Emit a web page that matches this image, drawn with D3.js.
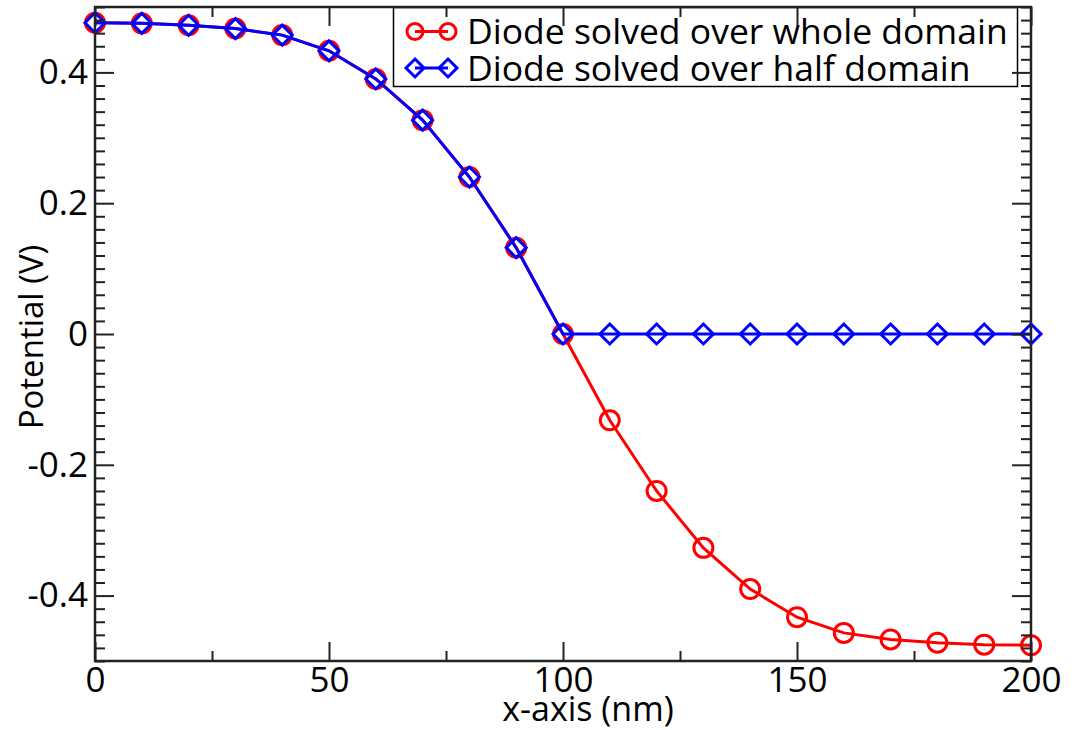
<!DOCTYPE html>
<html>
<head>
<meta charset="utf-8">
<script src="https://cdn.jsdelivr.net/npm/d3@7"></script>
<style>
  body { margin: 0; background: #fff; }
  svg { display: block; }
</style>
</head>
<body>
<svg id="chart"></svg>
<script>
// data
var xs = [0, 10, 20, 30, 40, 50, 60, 70, 80, 90, 100, 110, 120, 130, 140, 150, 160, 170, 180, 190, 200]
var wholeDomain = [0.476, 0.475, 0.472, 0.467, 0.457, 0.433, 0.390, 0.327, 0.240, 0.132, 0,
                   -0.132, -0.240, -0.327, -0.390, -0.433, -0.457, -0.467, -0.472, -0.475, -0.476]
var halfDomain = [0.476, 0.475, 0.472, 0.467, 0.457, 0.433, 0.390, 0.327, 0.240, 0.132, 0,
                  0, 0, 0, 0, 0, 0, 0, 0, 0, 0]
var seriesNames = ["Diode solved over whole domain", "Diode solved over half domain"]
var xTicks = [0, 50, 100, 150, 200]
var yTicks = [-0.4, -0.2, 0, 0.2, 0.4]

var dimensions = { width: 1074, height: 730 }
var margin = { left: 95, right: 43, top: 7, bottom: 69 }
var font = "'Open Sans', sans-serif"

var svg = d3.select("#chart")
  .attr("width", dimensions.width)
  .attr("height", dimensions.height)

var x = d3.scaleLinear().domain([0, 200]).range([margin.left, dimensions.width - margin.right])
var y = d3.scaleLinear().domain([-0.5, 0.5]).range([dimensions.height - margin.bottom, margin.top])

var x0 = x.range()[0], x1 = x.range()[1]
var y0 = y.range()[0], y1 = y.range()[1]

// series lines
var rows = xs.map(function(d, i) { return { x: d, whole: wholeDomain[i], half: halfDomain[i] } })

var line = function(key) {
  return d3.line().x(d => x(d.x)).y(d => y(d[key]))
}

var diamond = function(cx, cy, r) {
  return "M" + cx + "," + (cy - r) + "L" + (cx + r) + "," + cy + "L" + cx + "," + (cy + r) + "L" + (cx - r) + "," + cy + "Z"
}

// red: whole domain
svg.append("path")
  .datum(rows)
  .attr("d", line("whole"))
  .attr("fill", "none")
  .attr("stroke", "#ff0000")
  .attr("stroke-width", 3)

svg.append("g")
  .selectAll("circle")
  .data(rows)
  .join("circle")
  .attr("cx", d => x(d.x))
  .attr("cy", d => y(d.whole))
  .attr("r", 9.5)
  .attr("fill", "none")
  .attr("stroke", "#ff0000")
  .attr("stroke-width", 3)

// blue: half domain
svg.append("path")
  .datum(rows)
  .attr("d", line("half"))
  .attr("fill", "none")
  .attr("stroke", "#0000ff")
  .attr("stroke-width", 3)

svg.append("g")
  .selectAll("path")
  .data(rows)
  .join("path")
  .attr("d", d => diamond(x(d.x), y(d.half), 10))
  .attr("fill", "none")
  .attr("stroke", "#0000ff")
  .attr("stroke-width", 3)

// legend
var legend = svg.append("g")
legend.append("rect")
  .attr("x", 393.5)
  .attr("y", 7.5)
  .attr("width", 624)
  .attr("height", 79)
  .attr("fill", "#fff")
  .attr("stroke", "#000")
  .attr("stroke-width", 1.5)

var legendY = [31.5, 68]
var legendColors = ["#ff0000", "#0000ff"]
seriesNames.forEach(function(name, i) {
  var g = legend.append("g")
  g.append("line")
    .attr("x1", 415).attr("x2", 448)
    .attr("y1", legendY[i]).attr("y2", legendY[i])
    .attr("stroke", legendColors[i])
    .attr("stroke-width", 3)
  ;[415, 448].forEach(function(cx) {
    if (i === 0) {
      g.append("circle")
        .attr("cx", cx).attr("cy", legendY[i]).attr("r", 8)
        .attr("fill", "none").attr("stroke", legendColors[i]).attr("stroke-width", 3)
    } else {
      g.append("path")
        .attr("d", diamond(cx, legendY[i], 9))
        .attr("fill", "none").attr("stroke", legendColors[i]).attr("stroke-width", 3)
    }
  })
  g.append("text")
    .attr("x", 467)
    .attr("y", legendY[i])
    .attr("dy", "0.36em")
    .attr("font-family", font)
    .attr("font-size", 35.5)
    .attr("fill", "#000")
    .text(name)
})

// axes: ticks point inward on all four sides
var xMinor = d3.range(0, 201, 25).filter(d => xTicks.indexOf(d) < 0)
var yMinor = d3.range(-25, 26).map(d => d / 50).filter(d => yTicks.indexOf(d) < 0)
var fmt = d => d === 0 ? "0" : String(d)

function styleAxis(g) {
  g.select(".domain").remove()
  g.selectAll(".tick line").attr("stroke", "#222").attr("stroke-width", 2)
  g.selectAll("text").attr("font-family", font).attr("font-size", 35).attr("fill", "#000")
}

svg.append("g").attr("transform", "translate(0," + y0 + ")")
  .call(d3.axisBottom(x).tickValues(xTicks).tickSize(-19).tickPadding(6).tickFormat(fmt))
  .call(styleAxis)
svg.append("g").attr("transform", "translate(0," + y0 + ")")
  .call(d3.axisBottom(x).tickValues(xMinor).tickSize(-10).tickFormat(""))
  .call(styleAxis)
svg.append("g").attr("transform", "translate(0," + y1 + ")")
  .call(d3.axisTop(x).tickValues(xTicks).tickSize(-19).tickFormat(""))
  .call(styleAxis)
svg.append("g").attr("transform", "translate(0," + y1 + ")")
  .call(d3.axisTop(x).tickValues(xMinor).tickSize(-10).tickFormat(""))
  .call(styleAxis)

svg.append("g").attr("transform", "translate(" + x0 + ",0)")
  .call(d3.axisLeft(y).tickValues(yTicks).tickSize(-19).tickPadding(7).tickFormat(fmt))
  .call(styleAxis)
svg.append("g").attr("transform", "translate(" + x0 + ",0)")
  .call(d3.axisLeft(y).tickValues(yMinor).tickSize(-10).tickFormat(""))
  .call(styleAxis)
svg.append("g").attr("transform", "translate(" + x1 + ",0)")
  .call(d3.axisRight(y).tickValues(yTicks).tickSize(-19).tickFormat(""))
  .call(styleAxis)
svg.append("g").attr("transform", "translate(" + x1 + ",0)")
  .call(d3.axisRight(y).tickValues(yMinor).tickSize(-10).tickFormat(""))
  .call(styleAxis)

// frame
svg.append("rect")
  .attr("x", x0).attr("y", y1)
  .attr("width", x1 - x0).attr("height", y0 - y1)
  .attr("fill", "none")
  .attr("stroke", "#222")
  .attr("stroke-width", 2.5)

// axis titles
svg.append("text")
  .attr("x", 588)
  .attr("y", 721)
  .attr("text-anchor", "middle")
  .attr("font-family", font)
  .attr("font-size", 34)
  .text("x-axis (nm)")

svg.append("text")
  .attr("transform", "translate(43," + ((y0 + y1) / 2 + 3) + ") rotate(-90)")
  .attr("text-anchor", "middle")
  .attr("font-family", font)
  .attr("font-size", 33)
  .text("Potential (V)")
</script>
</body>
</html>
